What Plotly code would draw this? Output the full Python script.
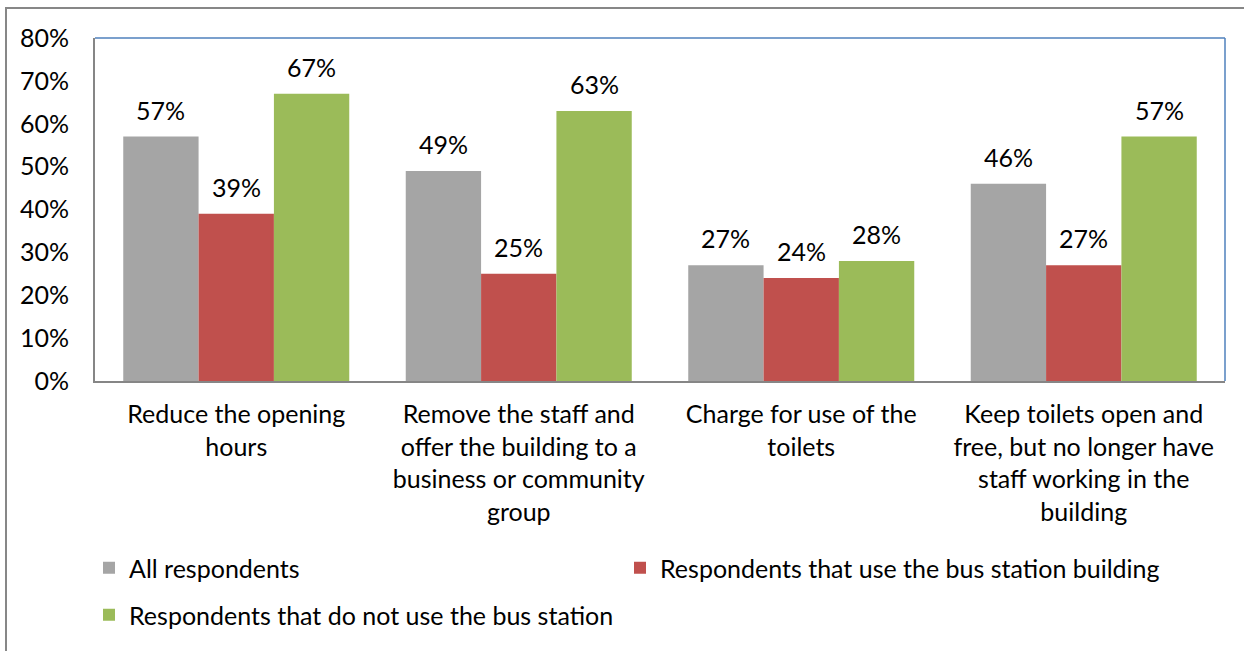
import plotly.graph_objects as go

# Survey responses by option and respondent group
categories = [
    "Reduce the opening<br>hours",
    "Remove the staff and<br>offer the building to a<br>business or community<br>group",
    "Charge for use of the<br>toilets",
    "Keep toilets open and<br>free, but no longer have<br>staff working in the<br>building",
]
all_respondents = [57, 49, 27, 46]
use_building = [39, 25, 24, 27]
not_use_station = [67, 63, 28, 57]

series_names = [
    "All respondents",
    "Respondents that use the bus station building",
    "Respondents that do not use the bus station",
]
series_values = [all_respondents, use_building, not_use_station]
series_colors = ["#A5A5A5", "#C0504D", "#9BBB59"]
series_legends = ["legend", "legend2", "legend3"]

y_ticks = [0, 10, 20, 30, 40, 50, 60, 70, 80]
y_tick_labels = [f"{v}%" for v in y_ticks]

FONT = "Lato"
FONT_SIZE = 25
TEXT_COLOR = "#000000"

W, H = 1244, 651
ML, MR, MT, MB = 95, 19, 38, 270
plot_w = W - ML - MR
plot_h = H - MT - MB
bargap = 0.2
bar_px = plot_w / len(categories) * (1 - bargap) / len(series_values)

fig = go.Figure()
for name, vals, color, lg in zip(series_names, series_values, series_colors, series_legends):
    fig.add_trace(go.Bar(
        name=name, x=categories, y=vals, legend=lg,
        marker=dict(color=color, line=dict(width=0)),
        hoverinfo="skip",
    ))

# value labels above each bar
annotations = []
for i, vals in enumerate(series_values):
    shift = (i - (len(series_values) - 1) / 2) * bar_px
    for cat, v in zip(categories, vals):
        annotations.append(dict(
            x=cat, y=v, xref="x", yref="y", text=f"{v}%",
            showarrow=False, xshift=shift, yshift=27,
            font=dict(family=FONT, size=FONT_SIZE, color=TEXT_COLOR),
        ))

legend_common = dict(
    orientation="h", xanchor="left", yanchor="top",
    font=dict(family=FONT, size=FONT_SIZE, color=TEXT_COLOR),
    traceorder="normal", bgcolor="rgba(0,0,0,0)",
)
row1_y = -(545 - (MT + plot_h)) / plot_h
row2_y = -(592 - (MT + plot_h)) / plot_h
col1_x = (89 - ML) / plot_w
col2_x = (620 - ML) / plot_w

fig.update_layout(
    width=W, height=H,
    margin=dict(l=ML, r=MR, t=MT, b=MB),
    paper_bgcolor="white", plot_bgcolor="white",
    barmode="group", bargap=bargap, bargroupgap=0,
    font=dict(family=FONT, size=FONT_SIZE, color=TEXT_COLOR),
    showlegend=True,
    legend=dict(legend_common, x=col1_x, y=row1_y),
    legend2=dict(legend_common, x=col2_x, y=row1_y),
    legend3=dict(legend_common, x=col1_x, y=row2_y),
    annotations=annotations,
    xaxis=dict(
        showline=True, linecolor="#868686", linewidth=2,
        showgrid=False, ticks="", ticklabelstandoff=10,
        fixedrange=True,
    ),
    yaxis=dict(
        range=[0, 80], tickvals=y_ticks, ticktext=y_tick_labels,
        showline=True, linecolor="#868686", linewidth=2,
        showgrid=False, zeroline=False, ticks="", ticklabelstandoff=19,
        fixedrange=True,
    ),
    shapes=[
        # top and right edges of the plot area
        dict(type="line", xref="paper", yref="paper", x0=0, x1=1, y0=1, y1=1,
             line=dict(color="#4F81BD", width=1.5)),
        dict(type="line", xref="paper", yref="paper", x0=1, x1=1, y0=0, y1=1,
             line=dict(color="#4F81BD", width=1.5)),
        # outer chart border
        dict(type="rect", xref="paper", yref="paper",
             x0=(6 - ML) / plot_w, x1=1.03,
             y0=-0.8, y1=1 + (MT - 8) / plot_h,
             line=dict(color="#878787", width=2), layer="below"),
    ],
)

fig.write_html("out.html", config={"displayModeBar": False})
